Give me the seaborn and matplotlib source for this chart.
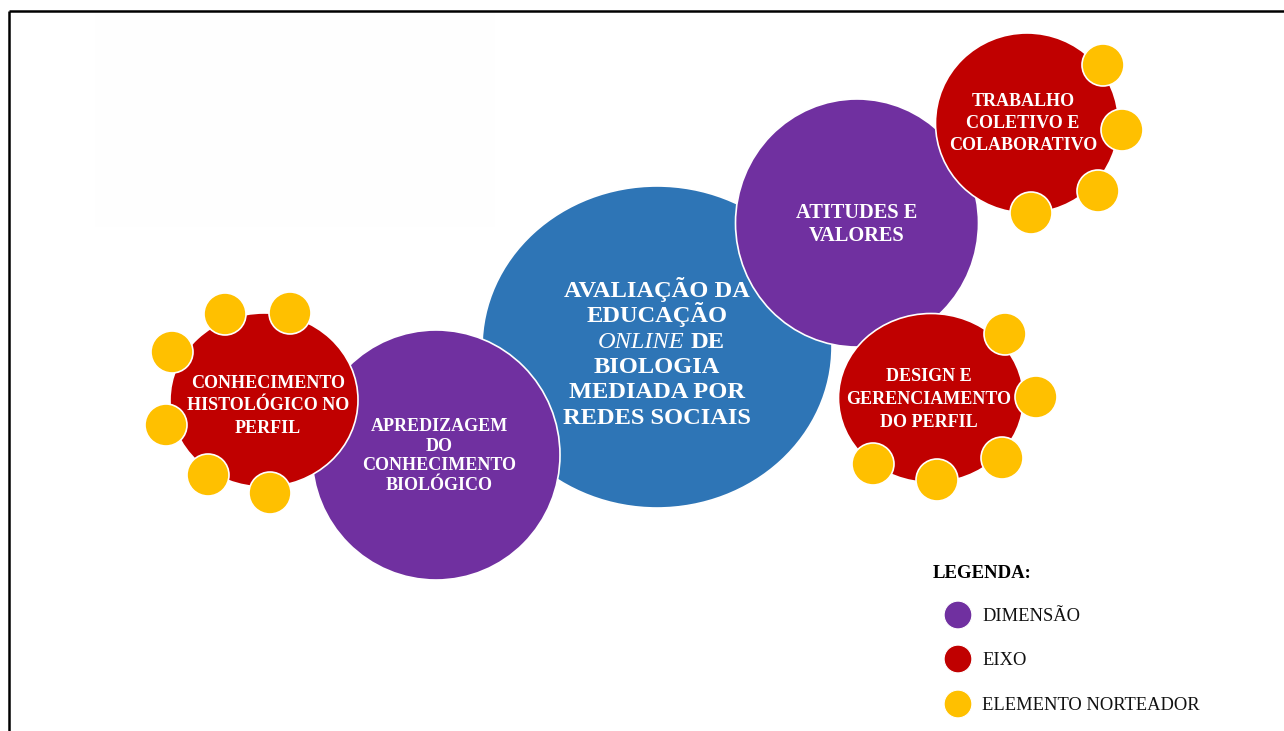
import matplotlib
matplotlib.use("Agg")
import matplotlib.pyplot as plt
from matplotlib.patches import Ellipse, Circle
import seaborn as sns
import pandas as pd

# ---------------- data ----------------
central_label = ["AVALIAÇÃO DA", "EDUCAÇÃO", "ONLINE|DE", "BIOLOGIA", "MEDIADA POR", "REDES SOCIAIS"]
dimensoes = [["APREDIZAGEM", "DO", "CONHECIMENTO", "BIOLÓGICO"],
             ["ATITUDES E", "VALORES"]]
eixos = [["CONHECIMENTO", "HISTOLÓGICO NO", "PERFIL"],
         ["TRABALHO", "COLETIVO E", "COLABORATIVO"],
         ["DESIGN E", "GERENCIAMENTO", "DO PERFIL"]]
elementos_por_eixo = [6, 4, 5]
legend_title = "LEGENDA:"
legend_labels = ["DIMENSÃO", "EIXO", "ELEMENTO NORTEADOR"]

# ---------------- styles / layout ----------------
C_BLUE = "#2E75B6"
C_PURPLE = "#7030A0"
C_RED = "#C00000"
C_YELLOW = "#FFC000"
legend_colors = [C_PURPLE, C_RED, C_YELLOW]

central_geom = dict(xy=(657, 347), w=350, h=322)
central_text = dict(x=657, y0=297, step=25.3, size=17.6)

dim_geom = [dict(xy=(436, 455), w=248, h=250), dict(xy=(857, 223), w=243, h=248)]
dim_text = [dict(x=439, y0=431, step=19.6, size=13),
            dict(x=857, y0=218, step=23, size=14.7)]

eixo_geom = [dict(xy=(264, 400), w=188, h=174),
             dict(xy=(1027, 123), w=183, h=180),
             dict(xy=(931, 398), w=185, h=169)]
eixo_text = [dict(x=268, y0=388, step=22.5, size=13),
             dict(x=1023, y0=106, step=22, size=13),
             dict(x=929, y0=381, step=22.8, size=13)]

yellow_pos = [[(225, 314), (290, 313), (172, 352), (166, 425), (208, 475), (270, 493)],
              [(1103, 65), (1122, 130), (1098, 191), (1031, 213)],
              [(1005, 334), (1036, 397), (1002, 458), (937, 480), (873, 464)]]
yellow_r = 21

legend_xy = dict(title=(933, 578), mark_x=958, text_x=982, ys=[615, 659, 704])

# ---------------- figure ----------------
sns.set_theme(style="white")
plt.rcParams['font.family'] = ['Liberation Serif', 'DejaVu Serif']

fig = plt.figure(figsize=(12.84, 7.31), dpi=100)
ax = fig.add_axes([0, 0, 1, 1])
ax.set_xlim(0, 1284)
ax.set_ylim(731, 0)
ax.axis("off")

# faint off-white block (scan artefact)
ax.add_patch(plt.Rectangle((95, 13), 400, 214, facecolor="#fefefe", edgecolor="none", zorder=0))

# frame lines (left and top)
ax.plot([9, 9], [731, 11], color="black", lw=1.8, solid_capstyle="butt", zorder=1)
ax.plot([9, 1284], [11, 11], color="black", lw=1.8, solid_capstyle="butt", zorder=1)

ew = 1.2
# central
ax.add_patch(Ellipse(central_geom["xy"], central_geom["w"], central_geom["h"],
                     facecolor=C_BLUE, edgecolor="white", lw=ew, zorder=2))
# dimensions
for g in dim_geom:
    ax.add_patch(Ellipse(g["xy"], g["w"], g["h"], facecolor=C_PURPLE,
                         edgecolor="white", lw=ew, zorder=3))
# eixos
for g in eixo_geom:
    ax.add_patch(Ellipse(g["xy"], g["w"], g["h"], facecolor=C_RED,
                         edgecolor="white", lw=ew, zorder=4))
# elementos norteadores
for n, pts in zip(elementos_por_eixo, yellow_pos):
    for (x, y) in pts[:n]:
        ax.add_patch(Circle((x, y), yellow_r, facecolor=C_YELLOW,
                            edgecolor="white", lw=ew, zorder=5))

def draw_lines(lines, spec, z):
    for i, line in enumerate(lines):
        ax.text(spec["x"], spec["y0"] + i * spec["step"], line, ha="center",
                va="baseline", color="white", fontsize=spec["size"],
                fontweight="bold", zorder=z)

# central text
for i, line in enumerate(central_label):
    y = central_text["y0"] + i * central_text["step"]
    if "|" in line:
        a, b = line.split("|")
        ax.text(central_text["x"] + 27, y, a, ha="right", va="baseline",
                color="white", fontsize=central_text["size"], fontstyle="italic",
                fontweight="normal", zorder=6)
        ax.text(central_text["x"] + 34, y, b, ha="left", va="baseline",
                color="white", fontsize=central_text["size"], fontweight="bold", zorder=6)
    else:
        ax.text(central_text["x"], y, line, ha="center", va="baseline",
                color="white", fontsize=central_text["size"], fontweight="bold", zorder=6)

for lines, spec in zip(dimensoes, dim_text):
    draw_lines(lines, spec, 6)
for lines, spec in zip(eixos, eixo_text):
    draw_lines(lines, spec, 6)

# legend
ax.text(*legend_xy["title"], legend_title, ha="left", va="baseline",
        fontsize=13.5, fontweight="bold", color="black")
leg_df = pd.DataFrame({"x": [legend_xy["mark_x"]] * 3, "y": legend_xy["ys"],
                       "label": legend_labels})
sns.scatterplot(data=leg_df, x="x", y="y", hue="label", palette=legend_colors,
                s=400, edgecolor="white", linewidth=0.8, legend=False, ax=ax, zorder=7)
for lab, y in zip(legend_labels, legend_xy["ys"]):
    ax.text(legend_xy["text_x"], y + 6, lab, ha="left", va="baseline",
            fontsize=13.3, color="#111111")

ax.set_xlim(0, 1284)
ax.set_ylim(731, 0)
fig.savefig("out.png", dpi=100, facecolor="white")
